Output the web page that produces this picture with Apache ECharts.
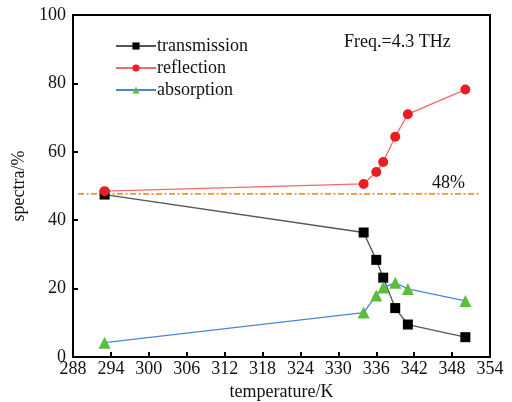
<!DOCTYPE html>
<html>
<head>
<meta charset="utf-8">
<script src="https://cdn.jsdelivr.net/npm/echarts@6/dist/echarts.min.js"></script>
<style>
  html, body { margin: 0; padding: 0; background: #fff; }
  #chart { width: 512px; height: 402px; }
</style>
</head>
<body>
<div id="chart"></div>
<script>
// temperature (K) of each measurement
const temps = [293, 334, 336, 337.1, 339, 341, 350.1]
const transmission = [47.5, 36.4, 28.4, 23.2, 14.3, 9.5, 5.8]
const reflection = [48.5, 50.6, 54.1, 57.0, 64.4, 71.0, 78.2]
const absorption = [4.2, 13.0, 18.0, 20.3, 21.7, 19.9, 16.4]
// reference level line
const refLevel = 47.7
const refRange = [288.8, 352.6]

const font = 'Liberation Serif, Times New Roman, serif'

const pairs = arr => temps.map((t, i) => [t, arr[i]])

const options = {
  animation: false,
  grid: {
    left: 73, right: 22, top: 15, bottom: 45,
    outerBoundsMode: 'none',
    show: true, borderColor: '#000', borderWidth: 2
  },
  legend: {
    data: ['transmission', 'reflection', 'absorption'],
    orient: 'vertical',
    left: 115,
    top: 37,
    padding: 0,
    itemWidth: 40,
    itemHeight: 9,
    itemGap: 4,
    textStyle: { fontFamily: font, fontSize: 18, color: '#111', padding: [0, 0, 0, -4] }
  },
  xAxis: {
    type: 'value',
    min: 288,
    max: 354,
    interval: 6,
    name: 'temperature/K',
    nameLocation: 'middle',
    nameGap: 22,
    nameTextStyle: { fontFamily: font, fontSize: 18, color: '#111' },
    axisLine: { lineStyle: { color: '#000', width: 2 } },
    axisTick: { inside: true, length: 5, lineStyle: { color: '#000', width: 2 } },
    axisLabel: { fontFamily: font, fontSize: 18, color: '#111', margin: 3 },
    splitLine: { show: false }
  },
  yAxis: {
    type: 'value',
    min: 0,
    max: 100,
    interval: 20,
    name: 'spectra/%',
    nameLocation: 'middle',
    nameGap: 41,
    nameTextStyle: { fontFamily: font, fontSize: 18, color: '#111' },
    axisLine: { show: true, lineStyle: { color: '#000', width: 2 } },
    axisTick: { show: true, inside: true, length: 5, lineStyle: { color: '#000', width: 2 } },
    axisLabel: { fontFamily: font, fontSize: 18, color: '#111', margin: 7 },
    splitLine: { show: false }
  },
  graphic: [
    {
      type: 'text', left: 344, top: 33,
      style: { text: 'Freq.=4.3 THz', font: '18px ' + font, fill: '#111' }
    },
    {
      type: 'text', left: 432, top: 174,
      style: { text: '48%', font: '18px ' + font, fill: '#111' }
    }
  ],
  series: [
    {
      name: 'level',
      type: 'line',
      data: refRange.map(t => [t, refLevel]),
      symbol: 'none',
      silent: true,
      lineStyle: { color: '#f39230', width: 1.6, type: [6, 2.5, 2, 2.5] },
      z: 1
    },
    {
      name: 'transmission',
      type: 'line',
      data: pairs(transmission),
      symbol: 'rect',
      symbolSize: 10,
      itemStyle: { color: '#000' },
      lineStyle: { color: '#555', width: 1.3 },
      z: 3
    },
    {
      name: 'reflection',
      type: 'line',
      data: pairs(reflection),
      symbol: 'circle',
      symbolSize: 10,
      itemStyle: { color: '#ec1c24' },
      lineStyle: { color: '#f26a6a', width: 1.3 },
      z: 3
    },
    {
      name: 'absorption',
      type: 'line',
      data: pairs(absorption),
      symbol: 'triangle',
      symbolSize: 12,
      itemStyle: { color: '#5bbd3c' },
      lineStyle: { color: '#4a86d8', width: 1.3 },
      z: 4
    }
  ]
}

const chart = echarts.init(document.getElementById('chart'))
chart.setOption(options, true)
</script>
</body>
</html>
